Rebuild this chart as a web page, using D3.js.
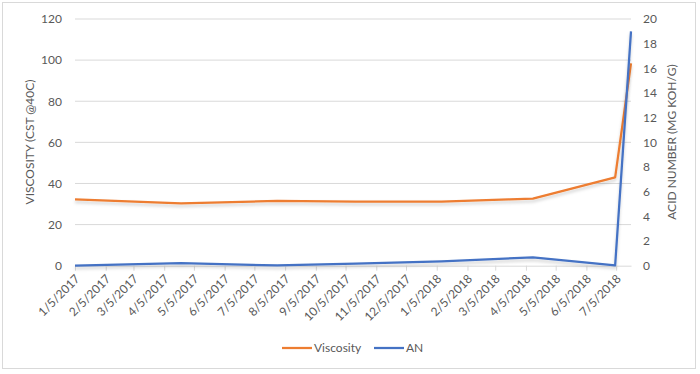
<!DOCTYPE html>
<html>
<head>
<meta charset="utf-8">
<script src="https://cdn.jsdelivr.net/npm/d3@7"></script>
<style>
  body { margin: 0; background: #fff; }
  text { font-family: Lato, "Open Sans", sans-serif; fill: #595959; }
</style>
</head>
<body>
<div id="chart"></div>
<script>
// sample dates and readings
const dates = ["2017-01-05", "2017-04-22", "2017-07-28", "2017-10-15", "2018-01-10", "2018-04-12", "2018-07-04", "2018-07-20"];
const viscosity = [32.3, 30.3, 31.5, 31.2, 31.2, 32.6, 43, 98.4];
const an = [0, 0.2, 0.02, 0.16, 0.36, 0.68, 0.02, 19];
const leftTicks = [0, 20, 40, 60, 80, 100, 120];
const rightTicks = [0, 2, 4, 6, 8, 10, 12, 14, 16, 18, 20];

const width = 700, height = 374;
const margin = {left: 75, right: 631, top: 19, bottom: 265.7};
const parse = d3.timeParse("%Y-%m-%d");
const fmt = d3.timeFormat("%-m/%-d/%Y");

let points = dates.map((d, i) => ({date: parse(d), v: viscosity[i], a: an[i]}));

// month ticks on the 5th, like the excel date axis
let xTicks = d3.range(0, 19).map(m => new Date(2017, m, 5));

let svg = d3.select("#chart")
            .append("svg")
            .attr("width", width)
            .attr("height", height);

let defs = svg.append("defs");
let f = defs.append("filter").attr("id", "shadow")
            .attr("x", "-10%").attr("y", "-10%").attr("width", "120%").attr("height", "130%");
f.append("feDropShadow")
  .attr("dx", 0).attr("dy", 2.5).attr("stdDeviation", 1.5)
  .attr("flood-color", "#000").attr("flood-opacity", 0.18);

// chart border
svg.append("rect")
   .attr("x", 2.5).attr("y", 2.5)
   .attr("width", 693).attr("height", 366)
   .attr("fill", "none")
   .attr("stroke", "#d9d9d9");

let x = d3.scaleTime()
          .domain([parse("2017-01-05"), parse("2018-07-20")])
          .range([margin.left, margin.right]);

let yL = d3.scaleLinear().domain([0, 120]).range([margin.bottom, margin.top]);
let yR = d3.scaleLinear().domain([0, 20]).range([margin.bottom, margin.top]);

// gridlines
svg.append("g")
   .selectAll("line")
   .data(leftTicks.slice(1))
   .enter().append("line")
   .attr("x1", margin.left).attr("x2", margin.right)
   .attr("y1", d => yL(d)).attr("y2", d => yL(d))
   .attr("stroke", "#d9d9d9").attr("stroke-width", 1);

// bottom axis
let xAxis = svg.append("g")
   .attr("transform", "translate(0," + margin.bottom + ")")
   .call(d3.axisBottom(x).tickValues(xTicks).tickFormat(fmt).tickSize(5).tickSizeOuter(0));
xAxis.select(".domain").attr("stroke", "#d9d9d9");
xAxis.selectAll(".tick line").attr("stroke", "#d9d9d9");
xAxis.selectAll(".tick text")
     .attr("font-size", 12)
     .attr("text-anchor", "end")
     .attr("y", 0).attr("dy", 0)
     .attr("transform", "translate(5,14) rotate(-45)");

// left axis
let leftAxis = svg.append("g")
   .attr("transform", "translate(" + margin.left + ",0)")
   .call(d3.axisLeft(yL).tickValues(leftTicks).tickSize(0).tickPadding(13));
leftAxis.select(".domain").remove();
leftAxis.selectAll("text").attr("font-size", 12);

// right axis
let rightAxis = svg.append("g")
   .attr("transform", "translate(" + margin.right + ",0)")
   .call(d3.axisRight(yR).tickValues(rightTicks).tickSize(0).tickPadding(12));
rightAxis.select(".domain").remove();
rightAxis.selectAll("text").attr("font-size", 12);

// axis titles
svg.append("text")
   .attr("transform", "translate(34,142) rotate(-90)")
   .attr("text-anchor", "middle")
   .attr("font-size", 12)
   .text("VISCOSITY (CST @40C)");

svg.append("text")
   .attr("transform", "translate(676,142) rotate(-90)")
   .attr("text-anchor", "middle")
   .attr("font-size", 12)
   .text("ACID NUMBER (MG KOH/G)");

// lines
let lineV = d3.line().x(d => x(d.date)).y(d => yL(d.v));
let lineA = d3.line().x(d => x(d.date)).y(d => yR(d.a));

svg.append("path")
   .datum(points)
   .attr("d", lineV)
   .attr("fill", "none")
   .attr("stroke", "#ED7D31")
   .attr("stroke-width", 2.25)
   .attr("stroke-linejoin", "round")
   .attr("filter", "url(#shadow)");

svg.append("path")
   .datum(points)
   .attr("d", lineA)
   .attr("fill", "none")
   .attr("stroke", "#4472C4")
   .attr("stroke-width", 2.25)
   .attr("stroke-linejoin", "round")
   .attr("filter", "url(#shadow)");

// legend
let legend = [{name: "Viscosity", color: "#ED7D31", x: 282}, {name: "AN", color: "#4472C4", x: 374}];
let lg = svg.append("g").selectAll("g").data(legend).enter().append("g");
lg.append("line")
  .attr("x1", d => d.x).attr("x2", d => d.x + 30)
  .attr("y1", 348).attr("y2", 348)
  .attr("stroke", d => d.color).attr("stroke-width", 2.25);
lg.append("text")
  .attr("x", d => d.x + 32).attr("y", 352)
  .attr("font-size", 12)
  .text(d => d.name);
</script>
</body>
</html>
